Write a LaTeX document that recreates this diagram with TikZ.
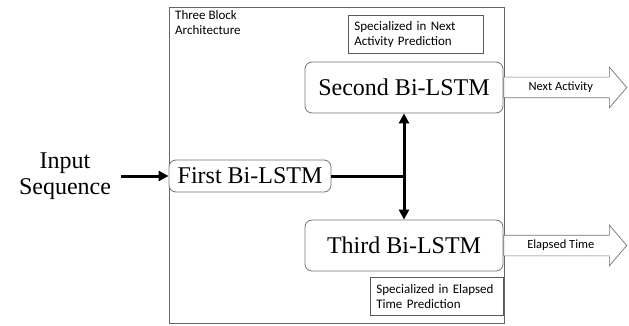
\documentclass[tikz,border=0pt]{standalone}
\usepackage{fontspec}
\setmainfont{Liberation Serif}
\newfontfamily\calibfont{Carlito}
\usetikzlibrary{positioning,arrows.meta,shapes.arrows}

\begin{document}
\begin{tikzpicture}[x=1pt, y=-1pt,
  lstm_style/.style={draw=black!55, line width=0.8pt, rounded corners=7pt, fill=white, font=\fontsize{24}{26}\selectfont, minimum height=51pt, minimum width=198pt, inner sep=0pt},
  note_style/.style={draw=black!65, line width=0.6pt, align=left, font=\calibfont\fontsize{13}{15.5}\selectfont, inner xsep=6pt, inner ysep=3pt, minimum height=38pt, anchor=north west},
  out_style/.style={single arrow, draw=black!55, line width=0.7pt, fill=white, font=\calibfont\fontsize{12.5}{14}\selectfont, minimum height=123pt, minimum width=40pt, single arrow head extend=10pt, single arrow tip angle=99, text height=9pt, text depth=3pt, inner ysep=4pt, anchor=tail},
  arrow_style/.style={draw=black, line width=3pt, -{Triangle[length=10pt,width=10pt]}}]

  \useasboundingbox (0,0) rectangle (629,326);

  \node (frame) [draw=black!60, line width=0.7pt, minimum width=335pt, minimum height=316pt, inner sep=0pt] at (336.5,165) {};
  \node (title) [anchor=north west, align=left, inner sep=0pt, font=\calibfont\fontsize{13}{15.5}\selectfont] at (175,10) {Three Block\\Architecture};

  \node (second) [lstm_style] at (404,87.5) {Second Bi-LSTM};
  \node (third) [lstm_style] at (404,245.5) {Third Bi-LSTM};
  \node (first) [lstm_style, minimum width=162pt, minimum height=32pt] at (250,176) {First Bi-LSTM};
  \node (input) [align=center, font=\fontsize{24}{26}\selectfont] at (65,176) {Input\\Sequence};

  \node (nextnote) [note_style, text width=123pt] at (348,15) {Specialized in Next\\Activity Prediction};
  \node (timenote) [note_style, text width=121pt] at (370,277) {Specialized in Elapsed\\Time Prediction};

  \node (nextact) [out_style] at (second.east) {Next Activity};
  \node (elapsed) [out_style] at (third.east) {Elapsed Time};
  %
  \draw [arrow_style, shorten <=6pt] (input.east) -- (first.west);
  \draw [line width=3pt] (first.east) -- (first.east -| second.south);
  \draw [arrow_style, {Triangle[length=10pt,width=10pt]}-{Triangle[length=10pt,width=10pt]}] (second.south) -- (third.north);
\end{tikzpicture}
\end{document}
